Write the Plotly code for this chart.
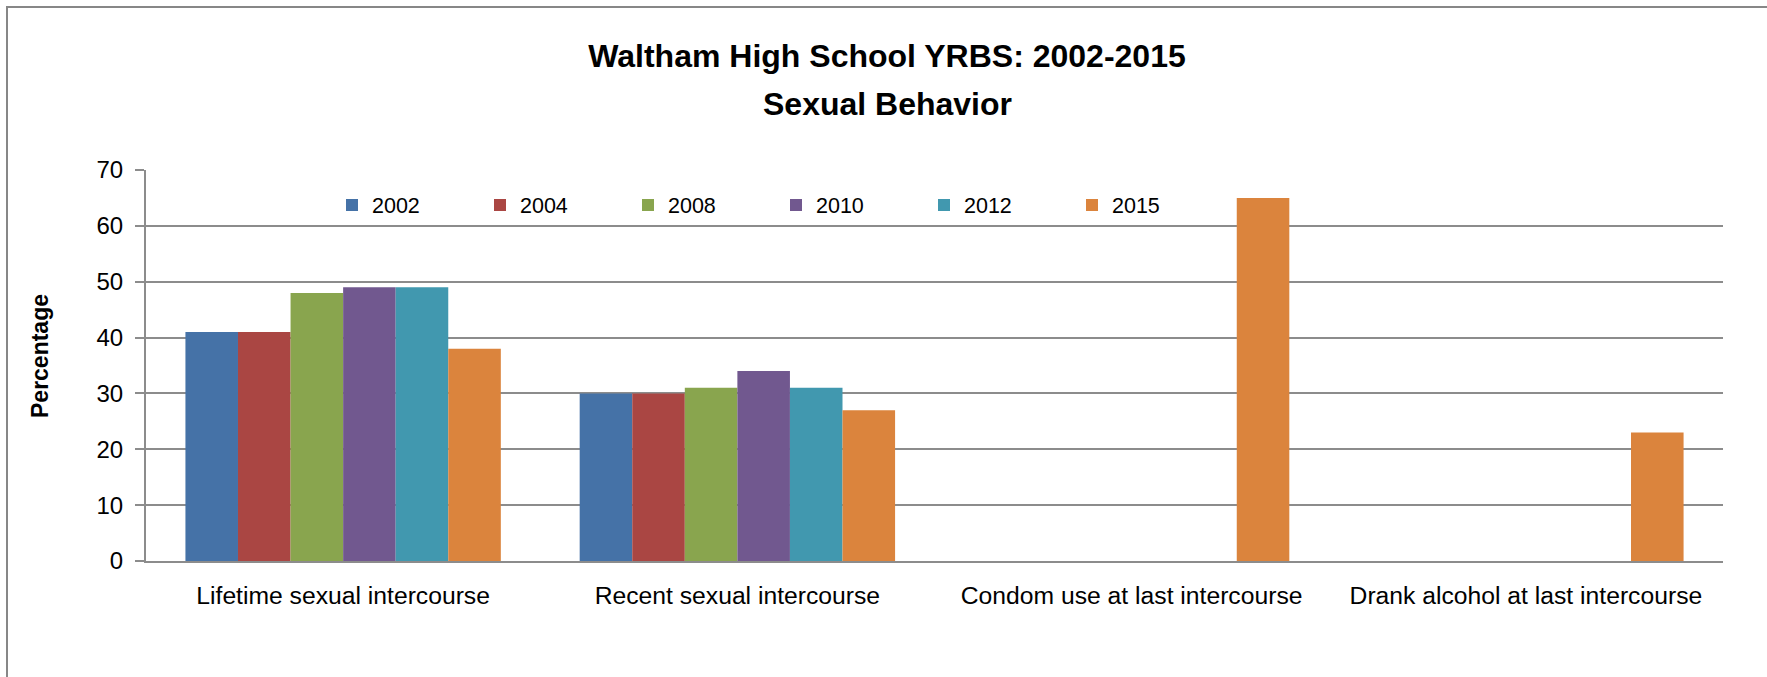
import plotly.graph_objects as go

categories = ["Lifetime sexual intercourse", "Recent sexual intercourse",
              "Condom use at last intercourse", "Drank alcohol at last intercourse"]
years = ["2002", "2004", "2008", "2010", "2012", "2015"]
v2002 = [41, 30, None, None]
v2004 = [41, 30, None, None]
v2008 = [48, 31, None, None]
v2010 = [49, 34, None, None]
v2012 = [49, 31, None, None]
v2015 = [38, 27, 65, 23]
series = [v2002, v2004, v2008, v2010, v2012, v2015]
colors = ["#4572A7", "#AA4643", "#89A54E", "#71588F", "#4198AF", "#DB843D"]
title_line1 = "Waltham High School YRBS: 2002-2015"
title_line2 = "Sexual Behavior"
y_title = "Percentage"

W, H = 1767, 677
L, R, T, B = 146, 1723, 170, 561
FONT = "Liberation Sans, Arial, sans-serif"

fig = go.Figure()
for name, vals, col in zip(years, series, colors):
    fig.add_trace(go.Bar(x=categories, y=vals, name=name,
                         marker=dict(color=col, line=dict(width=0))))

def px_x(X):
    return (X - L) / (R - L)

def px_y(Y):
    return (B - Y) / (B - T)

fig.update_layout(
    width=W, height=H,
    margin=dict(l=L, r=W - R, t=T, b=H - B, autoexpand=False),
    paper_bgcolor="white", plot_bgcolor="white",
    font=dict(family=FONT, color="black"),
    barmode="group", bargap=0.2, bargroupgap=0,
    title=dict(text="<b>" + title_line1 + "</b>",
               font=dict(size=32, family=FONT, color="black"),
               x=887 / W, xanchor="center", xref="container",
               y=1 - 56 / H, yanchor="middle", yref="container"),
    annotations=[
        dict(text="<b>" + title_line2 + "</b>", showarrow=False,
             xref="paper", yref="paper", x=px_x(887), y=px_y(104),
             xanchor="center", yanchor="middle",
             font=dict(size=32, family=FONT, color="black")),
        dict(text="<b>" + y_title + "</b>", showarrow=False, textangle=-90,
             xref="paper", yref="paper", x=px_x(40), y=px_y(356),
             xanchor="center", yanchor="middle",
             font=dict(size=23, family=FONT, color="black")),
    ],
    showlegend=True,
    legend=dict(orientation="h", x=px_x(332), xanchor="left",
                y=px_y(205), yanchor="middle",
                font=dict(size=21.5, family=FONT, color="black"),
                entrywidth=103, entrywidthmode="pixels",
                bgcolor="rgba(0,0,0,0)", traceorder="normal"),
    xaxis=dict(showgrid=False, showline=True, linecolor="#8c8c8c", linewidth=2,
               ticks="", tickfont=dict(size=24.7, family=FONT, color="black"),
               ticklabelstandoff=11, fixedrange=True),
    yaxis=dict(range=[0, 70], dtick=10, tick0=0,
               showgrid=True, gridcolor="#8c8c8c", gridwidth=1.5,
               showline=True, linecolor="#8c8c8c", linewidth=2,
               ticks="outside", ticklen=9, tickcolor="#8c8c8c", tickwidth=2,
               tickfont=dict(size=24, family=FONT, color="black"),
               ticklabelstandoff=7,
               zeroline=False,
               fixedrange=True),
    shapes=[dict(type="rect", xref="paper", yref="paper",
                 x0=px_x(7), x1=px_x(W + 5), y0=px_y(H + 5), y1=px_y(7),
                 line=dict(color="#878787", width=2), fillcolor="rgba(0,0,0,0)",
                 layer="below")],
)

fig.write_html("out.html", config={"displayModeBar": False},
               post_script="document.body.style.margin='0';")
